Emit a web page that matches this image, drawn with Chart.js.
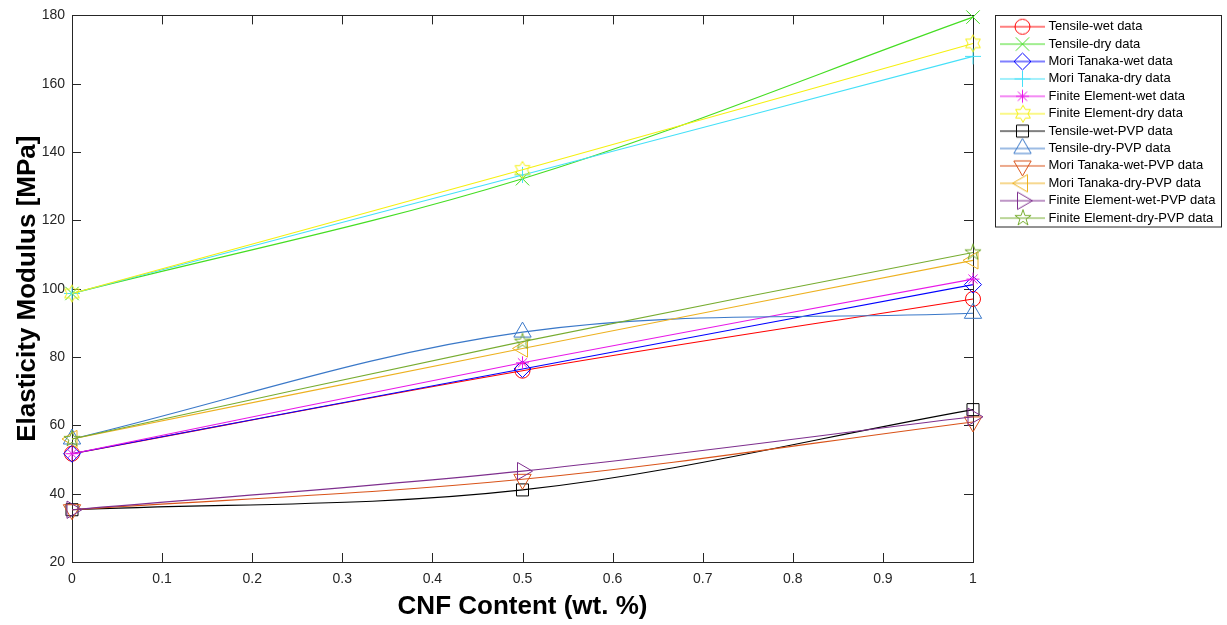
<!DOCTYPE html>
<html><head><meta charset="utf-8">
<script src="https://cdn.jsdelivr.net/npm/chart.js@4.4.1/dist/chart.umd.min.js"></script>
<style>html,body{margin:0;padding:0;background:#fff;}#wrap{width:1227px;height:625px;}canvas{display:block;}</style>
</head><body><div id="wrap"><canvas id="c" width="1227" height="625"></canvas></div>
<script>
// ---- data ----
const xValues = [0, 0.5, 1];
const seriesNames = [
  'Tensile-wet data','Tensile-dry data','Mori Tanaka-wet data','Mori Tanaka-dry data',
  'Finite Element-wet data','Finite Element-dry data','Tensile-wet-PVP data','Tensile-dry-PVP data',
  'Mori Tanaka-wet-PVP data','Mori Tanaka-dry-PVP data','Finite Element-wet-PVP data','Finite Element-dry-PVP data'
];
const tensileWet      = [51.7, 76.0, 97.0];
const tensileDry      = [98.6, 132.2, 179.5];
const moriTanakaWet   = [51.7, 76.5, 101.2];
const moriTanakaDry   = [98.6, 133.3, 168.0];
const finiteElemWet   = [51.7, 78.3, 102.8];
const finiteElemDry   = [98.6, 134.8, 171.8];
const tensileWetPVP   = [35.3, 41.1, 64.6];
const tensileDryPVP   = [56.0, 87.3, 92.8];
const moriTanakaWetPVP= [35.3, 44.2, 61.0];
const moriTanakaDryPVP= [56.0, 82.5, 108.3];
const finiteElemWetPVP= [35.3, 46.6, 62.5];
const finiteElemDryPVP= [56.0, 84.5, 110.6];
const xTickValues = [0, 0.1, 0.2, 0.3, 0.4, 0.5, 0.6, 0.7, 0.8, 0.9, 1];
const xTickLabels = ['0','0.1','0.2','0.3','0.4','0.5','0.6','0.7','0.8','0.9','1'];
const yTickValues = [20, 40, 60, 80, 100, 120, 140, 160, 180];
const yTickLabels = ['20','40','60','80','100','120','140','160','180'];

// ---- styles ----
const seriesValues = [tensileWet,tensileDry,moriTanakaWet,moriTanakaDry,finiteElemWet,finiteElemDry,
  tensileWetPVP,tensileDryPVP,moriTanakaWetPVP,moriTanakaDryPVP,finiteElemWetPVP,finiteElemDryPVP];
const seriesColors = ['#FF0000','#44DD22','#0000FF','#44E0F8','#E818E8','#F5F010',
  '#000000','#3A78C8','#D95319','#EDB120','#7E2F8E','#77AC30'];

function starCanvas(color, n, R, ratio){
  const s = Math.ceil(2*R+4) + (Math.ceil(2*R+4)%2);
  const cv = document.createElement('canvas'); cv.width = s; cv.height = s;
  const g = cv.getContext('2d'); g.strokeStyle = color; g.lineWidth = 1; g.beginPath();
  for (let k=0;k<2*n;k++){
    const r = (k%2) ? R*ratio : R;
    const a = -Math.PI/2 + k*Math.PI/n;
    const px = s/2 + r*Math.cos(a), py = s/2 + r*Math.sin(a);
    if (k) g.lineTo(px,py); else g.moveTo(px,py);
  }
  g.closePath(); g.stroke(); return cv;
}
const markerDefs = [
  {style:'circle', r:7.5, rot:0},
  {style:'crossRot', r:9.5, rot:0},
  {style:'rectRot', r:8.5, rot:0},
  {style:'cross', r:8, rot:0},
  {style:'star', r:6.5, rot:0},
  {style:starCanvas(seriesColors[5],6,8.5,0.577), r:7, rot:0},
  {style:'rect', r:8.5, rot:0},
  {style:'triangle', r:10, rot:0},
  {style:'triangle', r:10, rot:180},
  {style:'triangle', r:10, rot:270},
  {style:'triangle', r:10, rot:90},
  {style:starCanvas(seriesColors[11],5,8.5,0.382), r:7, rot:0}
];

function legendIcon(i){
  const w = 45, h = 24;
  const cv = document.createElement('canvas'); cv.width = w; cv.height = h;
  const g = cv.getContext('2d');
  g.strokeStyle = seriesColors[i]; g.lineWidth = 1;
  g.beginPath(); g.moveTo(0, h/2); g.lineTo(w, h/2); g.stroke();
  const m = markerDefs[i];
  g.fillStyle = 'rgba(0,0,0,0)';
  if (typeof m.style === 'object') {
    g.drawImage(m.style, Math.round(w/2 - m.style.width/2), h/2 - m.style.height/2);
  } else {
    Chart.helpers.drawPoint(g, {pointStyle:m.style, radius:m.r, rotation:m.rot, borderWidth:1}, w/2, h/2);
  }
  return cv;
}

const datasets = seriesValues.map((vals, i) => ({
  label: seriesNames[i],
  data: xValues.map((x, k) => ({x: x, y: vals[k]})),
  borderColor: seriesColors[i],
  backgroundColor: 'rgba(0,0,0,0)',
  pointBorderColor: seriesColors[i],
  pointBackgroundColor: 'rgba(0,0,0,0)',
  pointStyle: markerDefs[i].style,
  pointRadius: markerDefs[i].r,
  pointRotation: markerDefs[i].rot,
  pointBorderWidth: 1,
  borderWidth: 1.1,
  tension: 0.35,
  clip: false,
  order: seriesValues.length - i
}));

const AXIS = '#262626';
const L = 72, R = 973, T = 15, B = 562;

const boxPlugin = {
  id: 'boxPlugin',
  afterLayout(chart){
    const lg = chart.legend; if (!lg) return;
    const w = lg.width, h = lg.height;
    lg.left = 998.6; lg.top = 15.8; lg.right = lg.left + w; lg.bottom = lg.top + h;
  },
  beforeDatasetsDraw(chart){
    const {ctx, chartArea:a, scales} = chart;
    ctx.save();
    ctx.strokeStyle = AXIS; ctx.lineWidth = 1;
    ctx.strokeRect(Math.round(a.left)+0.5, Math.round(a.top)+0.5, Math.round(a.right-a.left), Math.round(a.bottom-a.top));
    const tl = 9;
    ctx.beginPath();
    xTickValues.forEach(v => {
      const px = Math.round(scales.x.getPixelForValue(v)) + 0.5;
      ctx.moveTo(px, a.bottom); ctx.lineTo(px, a.bottom - tl);
      ctx.moveTo(px, a.top); ctx.lineTo(px, a.top + tl);
    });
    yTickValues.forEach(v => {
      const py = Math.round(scales.y.getPixelForValue(v)) + 0.5;
      ctx.moveTo(a.left, py); ctx.lineTo(a.left + tl, py);
      ctx.moveTo(a.right, py); ctx.lineTo(a.right - tl, py);
    });
    ctx.stroke();
    ctx.restore();
  },
  afterDraw(chart){
    const ctx = chart.ctx;
    ctx.save(); ctx.strokeStyle = AXIS; ctx.lineWidth = 1;
    ctx.strokeRect(995.5, 15.5, 226, 211.5);
    ctx.restore();
  }
};

Chart.defaults.font.family = "'Liberation Sans', Arial, Helvetica, sans-serif";
const legendIcons = seriesNames.map((_, i) => legendIcon(i));

new Chart(document.getElementById('c'), {
  type: 'line',
  data: { datasets },
  options: {
    responsive: false,
    animation: false,
    devicePixelRatio: 1,
    events: [],
    layout: { padding: { left: 0, top: T, right: 1227 - R, bottom: 0 } },
    scales: {
      x: {
        type: 'linear', min: 0, max: 1,
        afterBuildTicks: s => { s.ticks = xTickValues.map(v => ({value: v})); },
        afterFit: s => { s.height = 625 - B; },
        grid: { display: false, drawTicks: false },
        border: { display: false },
        ticks: { autoSkip: false, maxRotation: 0, padding: 9, color: AXIS, font: { size: 14 },
          callback: (v, i) => xTickLabels[i] },
        title: { display: true, text: 'CNF Content (wt. %)', color: '#000',
          font: { size: 26, weight: 'bold' }, padding: { top: 0, bottom: 2.4 } }
      },
      y: {
        type: 'linear', min: 20, max: 180,
        afterBuildTicks: s => { s.ticks = yTickValues.map(v => ({value: v})); },
        afterFit: s => { s.width = L; },
        grid: { display: false, drawTicks: false },
        border: { display: false },
        ticks: { autoSkip: false, padding: 7, color: AXIS, font: { size: 14 },
          callback: (v, i) => yTickLabels[i] },
        title: { display: true, text: 'Elasticity Modulus [MPa]', color: '#000',
          font: { size: 26, weight: 'bold' }, padding: { top: 12.4, bottom: 0 } }
      }
    },
    plugins: {
      tooltip: { enabled: false },
      legend: {
        display: true,
        position: 'chartArea',
        align: 'start',
        labels: {
          usePointStyle: true,
          pointStyleWidth: 39,
          padding: 4.4,
          color: '#000',
          font: { size: 13 },
          generateLabels: chart => chart.data.datasets.map((ds, i) => ({
            text: ds.label, pointStyle: legendIcons[i], rotation: 0,
            fillStyle: 'rgba(0,0,0,0)', strokeStyle: 'rgba(0,0,0,0)', lineWidth: 0,
            hidden: false, datasetIndex: i, fontColor: '#000'
          }))
        }
      }
    }
  },
  plugins: [boxPlugin]
});
</script>
</body></html>
